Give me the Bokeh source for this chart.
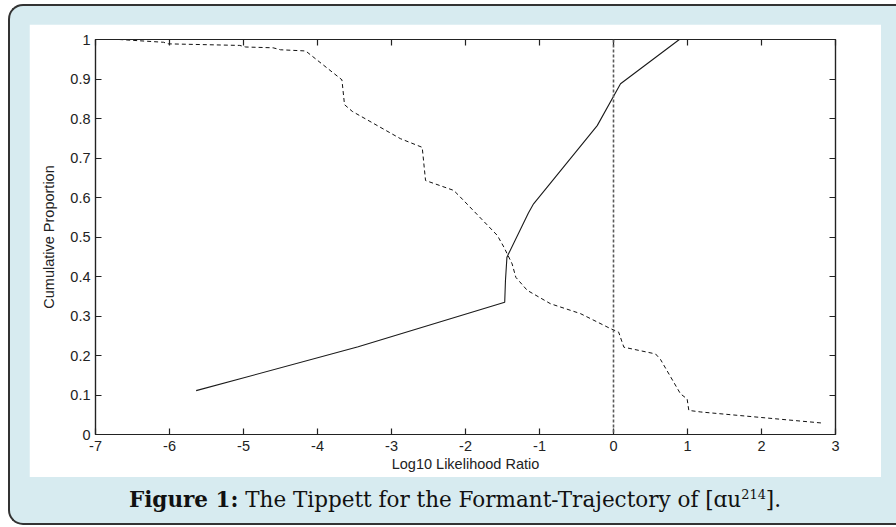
from bokeh.plotting import figure
from bokeh.models import Range1d, FixedTicker, LinearAxis, Span, Div
from bokeh.layouts import column
from bokeh.embed import file_html
from bokeh.resources import INLINE

# ---- data ----
# same-source (solid) cumulative proportions
same_llr = [-5.64, -3.45, -1.47, -1.46, -1.44, -1.15, -1.08, -0.22, 0.095, 0.89]
same_prop = [0.111, 0.222, 0.335, 0.39, 0.449, 0.561, 0.584, 0.782, 0.888, 1.0]

# different-source (dashed) cumulative proportions
diff_llr = [-6.68, -6.08, -6.02, -5.05, -4.97, -4.6, -4.5, -4.16, -3.67, -3.635,
            -3.53, -2.88, -2.585, -2.54, -2.16, -2.09, -1.57, -1.48, -1.37, -1.32,
            -1.166, -0.851, -0.446, -0.04, 0.07, 0.14, 0.568, 0.635, 0.905, 0.995,
            1.018, 1.18, 2.82]
diff_prop = [1.0, 0.993, 0.989, 0.985, 0.981, 0.979, 0.974, 0.971, 0.898, 0.835,
             0.818, 0.749, 0.727, 0.643, 0.618, 0.605, 0.504, 0.474, 0.432, 0.398,
             0.365, 0.331, 0.306, 0.268, 0.259, 0.221, 0.204, 0.19, 0.103, 0.09,
             0.061, 0.057, 0.029]

threshold = 0

x_ticks = [-7, -6, -5, -4, -3, -2, -1, 0, 1, 2, 3]
x_tick_labels = ["-7", "-6", "-5", "-4", "-3", "-2", "-1", "0", "1", "2", "3"]
y_ticks = [0, 0.1, 0.2, 0.3, 0.4, 0.5, 0.6, 0.7, 0.8, 0.9, 1]
y_tick_labels = ["0", "0.1", "0.2", "0.3", "0.4", "0.5", "0.6", "0.7", "0.8", "0.9", "1"]

x_label = "Log10 Likelihood Ratio"
y_label = "Cumulative Proportion"
caption_html = ('<b>Figure 1:</b> The Tippett for the Formant-Trajectory of '
                '[\u0251u<sup style="font-size:0.6em;vertical-align:0.6em;line-height:0">214</sup>].')

# ---- styles ----
BG = "#d7ebf0"
AX = "#222222"
FONT = "Liberation Sans"
FS = "14.5px"

p = figure(width=852, height=453,
           x_range=Range1d(x_ticks[0], x_ticks[-1]),
           y_range=Range1d(y_ticks[0], y_ticks[-1]),
           output_backend="svg", toolbar_location=None,
           min_border_left=66, min_border_right=46,
           min_border_top=15, min_border_bottom=43,
           background_fill_color="white", border_fill_color="white",
           outline_line_color=AX, outline_line_width=1.2)
p.xgrid.visible = False
p.ygrid.visible = False


def style_axis(ax, ticks, labels, show_labels):
    ax.ticker = FixedTicker(ticks=ticks)
    ax.major_tick_in = 6
    ax.major_tick_out = 0
    ax.minor_tick_in = 0
    ax.minor_tick_out = 0
    ax.axis_line_color = AX
    ax.axis_line_width = 1.2
    ax.major_tick_line_color = AX
    ax.major_tick_line_width = 1.2
    if show_labels:
        ax.major_label_overrides = dict(zip(ticks, labels))
        ax.major_label_text_font = FONT
        ax.major_label_text_color = "#222222"
        ax.major_label_text_font_size = FS
    else:
        ax.major_label_text_color = None
        ax.major_label_text_font_size = "1px"
        ax.major_label_standoff = 0


xa = p.xaxis[0]
style_axis(xa, x_ticks, x_tick_labels, True)
xa.major_label_standoff = 6
xa.axis_label = x_label
xa.axis_label_standoff = 2
xa.axis_label_text_font = FONT
xa.axis_label_text_font_size = FS
xa.axis_label_text_font_style = "normal"
xa.axis_label_text_color = "#222222"

ya = p.yaxis[0]
style_axis(ya, y_ticks, y_tick_labels, True)
ya.major_label_standoff = 5
ya.axis_label = y_label
ya.axis_label_standoff = 10
ya.axis_label_text_font = FONT
ya.axis_label_text_font_size = FS
ya.axis_label_text_font_style = "normal"
ya.axis_label_text_color = "#222222"

top = LinearAxis()
style_axis(top, x_ticks, x_tick_labels, False)
p.add_layout(top, "above")
right = LinearAxis()
style_axis(right, y_ticks, y_tick_labels, False)
p.add_layout(right, "right")

p.add_layout(Span(location=threshold, dimension="height", line_color="#5a5a5a",
                  line_width=1.6, line_dash="3 2"))

p.line(diff_llr, diff_prop, line_color="#111111", line_width=1, line_dash="4 3")
p.line(same_llr, same_prop, line_color="#1a1a1a", line_width=1.1)

cap = Div(text=caption_html, width=852, height=46, margin=0,
          styles={"font-family": "'DejaVu Serif', serif", "font-size": "21.5px",
                  "text-align": "center", "line-height": "46px", "color": "#111111",
                  "white-space": "nowrap"})

lay = column(p, cap, spacing=0,
             styles={"background-color": BG, "border": "2px solid #333333",
                     "border-right": "none", "border-radius": "15px 0 0 15px",
                     "padding": "18px 0 0 19px", "width": "869px", "height": "499px",
                     "box-sizing": "content-box"},
             margin=(4, 0, 0, 8))

open("out.html", "w").write(file_html(lay, INLINE))
